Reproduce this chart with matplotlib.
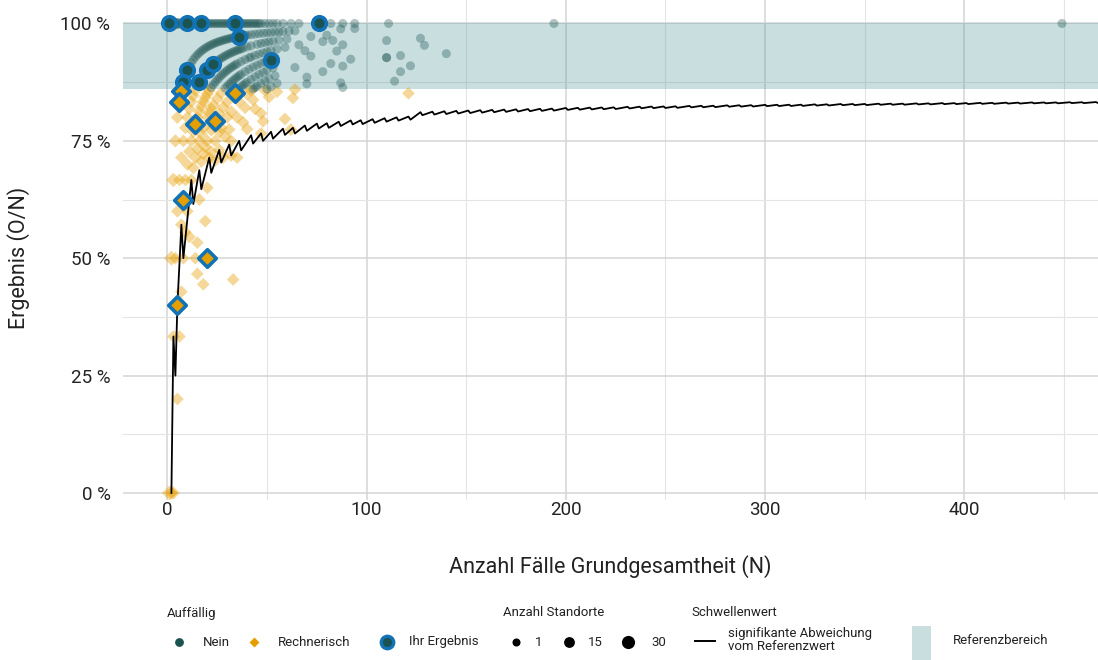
import matplotlib
matplotlib.use("Agg")
import matplotlib.pyplot as plt
import matplotlib.ticker as mticker
from matplotlib.patches import Rectangle

plt.rcParams['font.family'] = ['Roboto', 'DejaVu Sans']

DARK = '#1B5350'
ORANGE = '#E69F00'
BLUE = '#1272B6'
BAND = '#4B9498'
TEXT = '#222222'

# Referenzbereich (percent)
ref_low = 86
ref_high = 100

# Schwellenwert: vertices of the threshold line as (N, O)
thresh_n = [2, 3, 4, 5, 7, 8, 12, 13, 16, 17, 21, 22, 26, 27, 31, 32, 36, 37, 42, 43,
            47, 48, 52, 53, 58, 59, 63, 64, 69, 70, 75, 76, 80, 81, 86, 87, 92, 93,
            97, 98, 103, 104, 109, 110, 115, 116, 121, 122, 127, 128, 133, 134, 139, 140,
            145, 146, 151, 152, 157, 158, 163, 164, 169, 170, 175, 176, 181, 182, 187, 188,
            193, 194, 200, 201, 206, 207, 212, 213, 218, 219, 224, 225, 231, 232, 237, 238,
            243, 244, 249, 250, 255, 256, 262, 263, 268, 269, 274, 275, 281, 282, 287, 288,
            293, 294, 300, 301, 306, 307, 312, 313, 318, 319, 325, 326, 331, 332, 338, 339,
            344, 345, 350, 351, 357, 358, 363, 364, 369, 370, 376, 377, 382, 383, 389, 390,
            395, 396, 401, 402, 408, 409, 414, 415, 421, 422, 427, 428, 434, 435, 440, 441,
            446, 447, 453, 454, 459, 460, 466, 467, 470]
thresh_o = [0, 1, 1, 2, 4, 4, 8, 8, 11, 11, 15, 15, 19, 19, 23, 23, 27, 27, 32, 32,
            36, 36, 40, 40, 45, 45, 49, 49, 54, 54, 59, 59, 63, 63, 68, 68, 73, 73,
            77, 77, 82, 82, 87, 87, 92, 92, 97, 97, 103, 103, 108, 108, 113, 113,
            118, 118, 123, 123, 128, 128, 133, 133, 138, 138, 143, 143, 148, 148, 153, 153,
            158, 158, 164, 164, 169, 169, 174, 174, 179, 179, 184, 184, 190, 190, 195, 195,
            200, 200, 205, 205, 210, 210, 216, 216, 221, 221, 226, 226, 232, 232, 237, 237,
            242, 242, 248, 248, 253, 253, 258, 258, 263, 263, 269, 269, 274, 274, 280, 280,
            285, 285, 290, 290, 296, 296, 301, 301, 306, 306, 312, 312, 317, 317, 323, 323,
            328, 328, 333, 333, 339, 339, 344, 344, 350, 350, 355, 355, 361, 361, 366, 366,
            371, 371, 377, 377, 382, 382, 388, 388, 391]

# Auffaellig = Nein: sites grouped by number of misses (O = N - misses)
nein_miss0_n = [1, 2, 3, 4, 5, 6, 7, 8, 9, 10, 11, 12, 13, 14, 15, 16, 17, 18, 19, 20,
                21, 22, 23, 24, 25, 26, 27, 28, 29, 30, 31, 32, 33, 34, 35, 36, 37, 38, 39, 40,
                41, 42, 43, 44, 45, 46, 47, 49, 51, 53, 55, 58,
                62, 66, 82, 88, 94, 111, 194, 449]
nein_miss1_n = [8, 9, 10, 11, 12, 13, 14, 15, 16, 17, 18, 19, 20, 21, 22, 23, 24, 25, 26, 27,
                28, 29, 30, 31, 32, 33, 34, 35, 36, 37, 38, 39, 40, 42, 44, 46, 48,
                50, 52, 54, 56, 58, 61, 64]
nein_miss2_n = [15, 16, 17, 18, 19, 20, 21, 22, 23, 24, 25, 26, 27, 28, 29, 30, 31, 32, 33, 34,
                35, 36, 37, 38, 40, 42, 45, 47, 49, 51, 53, 56, 60]
nein_miss3_n = [22, 23, 24, 25, 26, 27, 28, 29, 30, 31, 32, 33, 34, 35, 37, 39, 41,
                42, 44, 46, 48, 50, 52, 55, 59]
nein_miss4_n = [29, 30, 31, 32, 33, 34, 35, 36, 37, 39, 41, 43, 45, 47, 49, 51, 54]
nein_miss5_n = [36, 37, 38, 39, 40, 42, 44, 46, 48, 50, 53]
nein_miss6_n = [43, 44, 45, 47, 49, 51, 54]
nein_miss7_n = [50, 52, 55]
nein_extra_n = [72, 80, 87, 94, 78, 83, 88, 66, 69, 72, 85, 92, 82, 88, 78, 64, 70, 70,
                87, 88, 110, 127, 129, 140, 110, 110, 117, 122, 117, 114]
nein_extra_o = [70, 78, 86, 93, 75, 80, 84, 63, 65, 67, 80, 85, 75, 80, 70, 58, 62, 61,
                76, 76, 106, 123, 123, 131, 102, 102, 109, 111, 105, 100]

# Auffaellig = Rechnerisch
rech_miss1_n = [4, 5, 6, 7]
rech_miss2_n = [7, 8, 9, 10, 11, 12, 13, 14]
rech_miss3_n = [10, 11, 12, 13, 15, 16, 17, 18, 19, 20, 21]
rech_miss4_n = [14, 15, 16, 17, 18, 20, 21, 22, 23, 25, 27]
rech_miss5_n = [17, 18, 19, 20, 22, 23, 24, 26, 28, 30, 33, 35]
rech_miss6_n = [21, 22, 24, 26, 27, 30, 32, 36, 40, 42]
rech_miss7_n = [24, 26, 29, 31, 35, 39, 43, 49]
rech_miss8_n = [28, 32, 38, 44, 51, 55]
rech_miss9_n = [32, 40, 47, 64]
rech_miss10_n = [35, 48, 63]
rech_extra_n = [1, 2, 3, 5, 3, 6, 7, 2, 4, 8, 14, 15, 18, 33, 7, 11, 15, 19, 9, 5, 10, 16,
                20, 3, 6, 9, 12, 13, 59, 62, 121, 47]
rech_extra_o = [0, 0, 0, 1, 1, 2, 3, 1, 2, 4, 7, 7, 8, 15, 4, 6, 8, 11, 5, 3, 6, 10,
                13, 2, 4, 6, 8, 9, 47, 48, 103, 36]

# Anzahl Standorte for (N, O) combinations with more than one site
multi_n = [1, 2, 3, 4, 5, 6, 7, 8, 9, 10, 11, 12,
           8, 9, 10,
           1, 2, 3, 2, 3, 4, 5]
multi_o = [1, 2, 3, 4, 5, 6, 7, 8, 9, 10, 11, 12,
           7, 8, 9,
           0, 0, 0, 1, 2, 3, 4]
multi_count = [30, 20, 14, 10, 8, 6, 5, 4, 3, 3, 2, 2,
               3, 2, 2,
               8, 3, 2, 8, 6, 3, 2]

# Ihr Ergebnis
ihr_nein_n = [1, 10, 17, 34, 76, 36, 52, 10, 16, 20, 23, 8]
ihr_nein_o = [1, 10, 17, 34, 76, 35, 48, 9, 14, 18, 21, 7]
ihr_rech_n = [7, 6, 34, 14, 24, 8, 20, 5]
ihr_rech_o = [6, 5, 29, 11, 19, 5, 10, 2]


def size_of(count):
    return 42 + (count - 1) * 70 / 29


def collect(groups, extra_n, extra_o):
    ns, pcts, sizes = [], [], []
    pairs = []
    for miss, n_list in groups:
        for n in n_list:
            pairs.append((n, n - miss))
    pairs += list(zip(extra_n, extra_o))
    lookup = {(n, o): c for n, o, c in zip(multi_n, multi_o, multi_count)}
    for n, o in pairs:
        ns.append(n)
        pcts.append(100 * o / n)
        sizes.append(size_of(lookup.get((n, o), 1)))
    return ns, pcts, sizes


fig = plt.figure(figsize=(10.98, 6.6), dpi=100)
ax = fig.add_axes([123 / 1098, 1 - 500 / 660, 975 / 1098, 500 / 660])
ax.set_xlim(-22.3, 467.1)
ax.set_ylim(-1.5, 105)

for s in ax.spines.values():
    s.set_visible(False)

ax.set_xticks([0, 100, 200, 300, 400])
ax.set_xticks([50, 150, 250, 350, 450], minor=True)
ax.set_yticks([0, 25, 50, 75, 100])
ax.set_yticks([12.5, 37.5, 62.5, 87.5], minor=True)
ax.yaxis.set_major_formatter(mticker.FuncFormatter(lambda v, p: f'{v:.0f} %'))
ax.set_axisbelow(True)
ax.grid(which='major', color='#d4d4d4', lw=1.1)
ax.grid(which='minor', color='#e4e4e4', lw=0.8)
ax.tick_params(which='both', length=0, labelsize=13.5, labelcolor=TEXT)
ax.tick_params(axis='y', pad=9)
ax.tick_params(axis='x', pad=1)

ax.axhspan(ref_low, ref_high, color=BAND, alpha=0.3, lw=0, zorder=1)

rn, rp, rs = collect([(1, rech_miss1_n), (2, rech_miss2_n), (3, rech_miss3_n), (4, rech_miss4_n),
                      (5, rech_miss5_n), (6, rech_miss6_n), (7, rech_miss7_n), (8, rech_miss8_n),
                      (9, rech_miss9_n), (10, rech_miss10_n)], rech_extra_n, rech_extra_o)
ax.scatter(rn, rp, s=rs, marker='D', color=ORANGE, alpha=0.4, lw=0, zorder=2)

nn, npct, ns = collect([(0, nein_miss0_n), (1, nein_miss1_n), (2, nein_miss2_n), (3, nein_miss3_n),
                        (4, nein_miss4_n), (5, nein_miss5_n), (6, nein_miss6_n), (7, nein_miss7_n)],
                       nein_extra_n, nein_extra_o)
ax.scatter(nn, npct, s=ns, marker='o', color=DARK, alpha=0.34, lw=0, zorder=2)

thresh_pct = [100 * o / n for n, o in zip(thresh_n, thresh_o)]
ax.plot(thresh_n, thresh_pct, color='black', lw=1.3, zorder=3)

ax.scatter(ihr_nein_n, [100 * o / n for n, o in zip(ihr_nein_n, ihr_nein_o)], s=95, marker='o',
           facecolor=DARK, edgecolor=BLUE, lw=2.6, zorder=4)
ax.scatter(ihr_rech_n, [100 * o / n for n, o in zip(ihr_rech_n, ihr_rech_o)], s=80, marker='D',
           facecolor=ORANGE, edgecolor=BLUE, lw=2.6, zorder=4)

ax.set_xlabel('Anzahl Fälle Grundgesamtheit (N)', fontsize=15.5, color=TEXT, labelpad=26)
ax.set_ylabel('Ergebnis (O/N)', fontsize=15.5, color=TEXT)
ax.yaxis.set_label_coords(-0.095, 0.484)

# legend drawn in pixel coordinates
lax = fig.add_axes([0, 0, 1, 1], zorder=-1)
lax.set_xlim(0, 1098)
lax.set_ylim(660, 0)
lax.axis('off')
lfs = 9.5
ly = 642
ty = 613
lax.text(167, ty, 'Auffällig', fontsize=lfs, va='center', color=TEXT)
lax.scatter([179], [ly], s=40, color=DARK, lw=0)
lax.text(203, ly, 'Nein', fontsize=lfs, va='center', color=TEXT)
lax.scatter([254], [ly], s=26, marker='D', color=ORANGE, lw=0)
lax.text(278, ly, 'Rechnerisch', fontsize=lfs, va='center', color=TEXT)
lax.scatter([387], [ly], s=80, color=DARK, edgecolor=BLUE, lw=2.4)
lax.text(409, ly, 'Ihr Ergebnis', fontsize=lfs, va='center', color=TEXT)

lax.text(503, ty, 'Anzahl Standorte', fontsize=lfs, va='center', color=TEXT)
for x, tx, c in zip([516, 569, 628], [535, 588, 651], [1, 15, 30]):
    lax.scatter([x], [ly], s=size_of(c) * 0.8, color='black', lw=0)
    lax.text(tx, ly, str(c), fontsize=lfs, va='center', color=TEXT)

lax.text(691, ty, 'Schwellenwert', fontsize=lfs, va='center', color=TEXT)
lax.plot([695, 715], [ly - 1, ly - 1], color='black', lw=1.4)
lax.text(728, ly - 2, 'signifikante Abweichung\nvom Referenzwert', fontsize=lfs, va='center',
         color=TEXT, linespacing=0.95)
lax.add_patch(Rectangle((912, 626), 19, 34, color=BAND, alpha=0.3, lw=0))
lax.text(953, ly - 1, 'Referenzbereich', fontsize=lfs, va='center', color=TEXT)

fig.savefig('out.png', dpi=100)
